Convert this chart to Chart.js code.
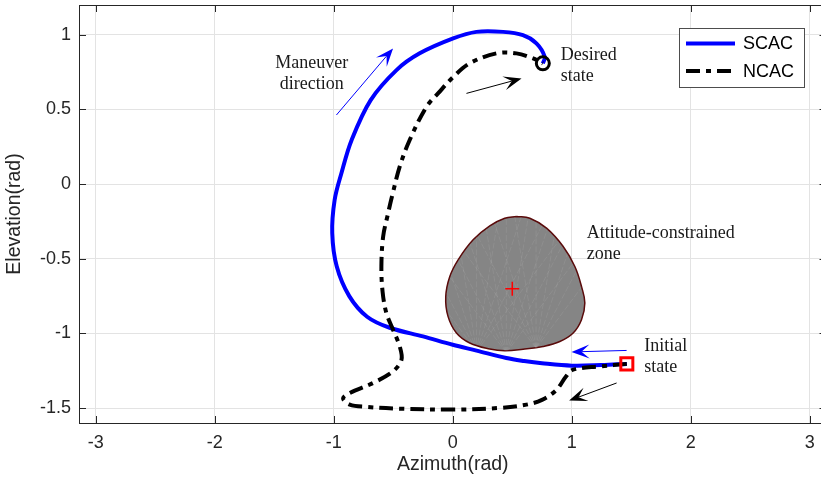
<!DOCTYPE html>
<html>
<head>
<meta charset="utf-8">
<script src="https://cdn.jsdelivr.net/npm/chart.js@4.4.1/dist/chart.umd.min.js"></script>
<style>
  html, body { margin: 0; padding: 0; overflow: hidden; background: #fff; }
  #wrap { width: 821px; height: 481px; }
</style>
</head>
<body>
<div id="wrap"><canvas id="traj" width="821" height="481"></canvas></div>
<script>
// attitude trajectories, azimuth / elevation in rad
const scacAz = [1.463, 1.25, 1.0, 0.75, 0.6, 0.45, 0.2, 0.0, -0.25, -0.53, -0.72, -0.87, -0.975, -1.013, -0.993, -0.936, -0.85, -0.69, -0.473, -0.278, 0.003, 0.199, 0.423, 0.59, 0.703, 0.773, 0.757];
const scacEl = [-1.204, -1.212, -1.216, -1.2, -1.185, -1.165, -1.115, -1.076, -1.02, -0.962, -0.888, -0.75, -0.552, -0.328, -0.106, 0.073, 0.296, 0.563, 0.764, 0.876, 0.976, 1.02, 1.02, 0.998, 0.943, 0.853, 0.809];
const ncacAz = [1.463, 1.236, 1.012, 0.95, 0.87, 0.75, 0.619, 0.395, 0.003, -0.446, -0.726, -0.866, -0.922, -0.866, -0.67, -0.502, -0.431, -0.446, -0.502, -0.558, -0.59, -0.60, -0.585, -0.545, -0.51, -0.446, -0.362, -0.221, -0.12, 0.0, 0.141, 0.367, 0.535, 0.675, 0.757];
const ncacEl = [-1.204, -1.221, -1.243, -1.29, -1.38, -1.445, -1.477, -1.499, -1.51, -1.504, -1.492, -1.477, -1.435, -1.399, -1.332, -1.254, -1.176, -1.087, -0.975, -0.864, -0.72, -0.55, -0.35, -0.2, -0.08, 0.117, 0.296, 0.518, 0.611, 0.715, 0.809, 0.876, 0.876, 0.842, 0.809];

// boundary of the attitude-constrained zone
const zoneAz = [0.536, 0.648, 0.788, 0.928, 1.026, 1.082, 1.110, 1.082, 1.012, 0.900, 0.759, 0.591, 0.437, 0.311, 0.143, 0.031, -0.040, -0.059, -0.025, 0.045, 0.171, 0.311, 0.437, 0.536];
const zoneEl = [-0.217, -0.228, -0.295, -0.418, -0.552, -0.686, -0.797, -0.908, -0.997, -1.054, -1.087, -1.106, -1.116, -1.104, -1.064, -0.997, -0.886, -0.753, -0.619, -0.507, -0.373, -0.280, -0.229, -0.217];
const zoneCenter = [0.5, -0.7];
const initialState = [1.463, -1.204];
const desiredState = [0.757, 0.809];

const xTicks = [-3, -2, -1, 0, 1, 2, 3];
const yTicks = [-1.5, -1, -0.5, 0, 0.5, 1];
// the axes box runs from -pi to pi; the page shows it up to 3.095
const xRange = [-Math.PI, 3.095];
const xBoxEnd = Math.PI;
const yRange = [-1.6, 1.2];

// direction arrows and text notes, in data coordinates
const arrows = [
  { from: [-0.978, 0.463], to: [-0.502, 0.909], color: '#0000ff' },
  { from: [0.115, 0.608], to: [0.578, 0.708], color: '#000000' },
  { from: [1.461, -1.114], to: [0.998, -1.124], color: '#0000ff' },
  { from: [1.377, -1.332], to: [0.978, -1.450], color: '#000000' }
];
const notes = [
  { at: [-1.186, 0.777], lines: ['Maneuver', 'direction'], align: 'center' },
  { at: [0.908, 0.831], lines: ['Desired', 'state'], align: 'left' },
  { at: [1.127, -0.362], lines: ['Attitude-constrained', 'zone'], align: 'left' },
  { at: [1.609, -1.12], lines: ['Initial', 'state'], align: 'left' }
];

const pts = (az, el) => az.map((x, i) => ({ x: x, y: el[i] }));
const AXIS = '#262626';
const SANS = 'Liberation Sans, Arial, sans-serif';
const SERIF = 'Liberation Serif, Times New Roman, serif';

function drawArrow(ctx, x0, y0, x1, y1, color) {
  const ang = Math.atan2(y1 - y0, x1 - x0);
  const len = 18, half = 7, back = 10;
  ctx.save();
  ctx.strokeStyle = color;
  ctx.fillStyle = color;
  ctx.lineWidth = 1;
  ctx.beginPath();
  ctx.moveTo(x0, y0);
  ctx.lineTo(x1 - Math.cos(ang) * back, y1 - Math.sin(ang) * back);
  ctx.stroke();
  ctx.translate(x1, y1);
  ctx.rotate(ang);
  ctx.beginPath();
  ctx.moveTo(0, 0);
  ctx.lineTo(-len, -half);
  ctx.lineTo(-back, 0);
  ctx.lineTo(-len, half);
  ctx.closePath();
  ctx.fill();
  ctx.restore();
}

const decorations = {
  id: 'decorations',
  afterDatasetDraw(chart, args) {
    if (args.index !== 2) return;
    // faint streaks inside the zone fill
    const { ctx, scales: { x, y } } = chart;
    ctx.save();
    ctx.beginPath();
    zoneAz.forEach((a, i) => {
      const px = x.getPixelForValue(a), py = y.getPixelForValue(zoneEl[i]);
      if (i === 0) ctx.moveTo(px, py); else ctx.lineTo(px, py);
    });
    ctx.closePath();
    ctx.clip();
    ctx.strokeStyle = 'rgba(255,255,255,0.1)';
    ctx.lineWidth = 0.8;
    ctx.setLineDash([6, 2]);
    const bases = [[0.2, -1.12], [0.45, -1.13], [0.7, -1.1]];
    bases.forEach(b => {
      const bx = x.getPixelForValue(b[0]), by = y.getPixelForValue(b[1]);
      for (let k = 0; k < 9; k++) {
        const a = -Math.PI / 2 + (k - 4) * 0.16;
        ctx.beginPath();
        ctx.moveTo(bx, by);
        ctx.lineTo(bx + Math.cos(a) * 200, by + Math.sin(a) * 200);
        ctx.stroke();
      }
    });
    ctx.restore();
  },
  afterDraw(chart) {
    const { ctx, chartArea: ca, scales: { x, y } } = chart;
    const boxRight = x.getPixelForValue(xBoxEnd);
    ctx.save();
    // top frame line and inward ticks on all four sides
    ctx.strokeStyle = AXIS;
    ctx.lineWidth = 1;
    ctx.beginPath();
    ctx.moveTo(ca.left, ca.top + 0.5);
    ctx.lineTo(ca.right, ca.top + 0.5);
    const tl = 7;
    xTicks.forEach(v => {
      const px = Math.round(x.getPixelForValue(v)) + 0.5;
      ctx.moveTo(px, ca.bottom); ctx.lineTo(px, ca.bottom - tl);
      ctx.moveTo(px, ca.top); ctx.lineTo(px, ca.top + tl);
    });
    yTicks.forEach(v => {
      const py = Math.round(y.getPixelForValue(v)) + 0.5;
      ctx.moveTo(ca.left, py); ctx.lineTo(ca.left + tl, py);
      ctx.moveTo(boxRight, py); ctx.lineTo(boxRight - tl, py);
    });
    ctx.stroke();

    arrows.forEach(a => drawArrow(ctx,
      x.getPixelForValue(a.from[0]), y.getPixelForValue(a.from[1]),
      x.getPixelForValue(a.to[0]), y.getPixelForValue(a.to[1]), a.color));

    ctx.fillStyle = '#1a1a1a';
    ctx.font = '18px ' + SERIF;
    ctx.textBaseline = 'alphabetic';
    notes.forEach(n => {
      ctx.textAlign = n.align;
      const px = x.getPixelForValue(n.at[0]), py = y.getPixelForValue(n.at[1]);
      n.lines.forEach((t, i) => ctx.fillText(t, px, py + i * 21));
    });

    // legend box
    const lx = 679.5, ly = 28.5, lw = 125, lh = 59;
    ctx.fillStyle = '#fff';
    ctx.fillRect(lx, ly, lw, lh);
    ctx.strokeStyle = '#4d4d4d';
    ctx.lineWidth = 1;
    ctx.strokeRect(lx, ly, lw, lh);
    ctx.font = '18px ' + SANS;
    ctx.textAlign = 'left';
    ctx.textBaseline = 'middle';
    [0, 1].forEach((di, i) => {
      const ds = chart.data.datasets[di];
      const ry = 43.5 + i * 27.5;
      ctx.strokeStyle = ds.borderColor;
      ctx.lineWidth = 4;
      ctx.setLineDash(ds.borderDash || []);
      ctx.beginPath();
      ctx.moveTo(686, ry);
      ctx.lineTo(735, ry);
      ctx.stroke();
      ctx.setLineDash([]);
      ctx.fillStyle = '#000';
      ctx.fillText(ds.label, 743, ry + 1);
    });
    ctx.restore();
  }
};

const tickFont = { family: SANS, size: 18 };
const titleFont = { family: SANS, size: 19.5 };

new Chart(document.getElementById('traj'), {
  type: 'scatter',
  data: {
    datasets: [
      { label: 'SCAC', data: pts(scacAz, scacEl), showLine: true, borderColor: '#0000ff', borderWidth: 4,
        pointRadius: 0, tension: 0.35, order: 3 },
      { label: 'NCAC', data: pts(ncacAz, ncacEl), showLine: true, borderColor: '#000000', borderWidth: 4,
        borderDash: [14, 6, 5, 6], pointRadius: 0, tension: 0.35, order: 2 },
      { label: 'zone', data: pts(zoneAz, zoneEl), showLine: true, fill: 'shape', backgroundColor: '#858585',
        borderColor: '#5a0a0a', borderWidth: 1.5, pointRadius: 0, tension: 0.4, order: 5 },
      { label: 'center', data: [{ x: zoneCenter[0], y: zoneCenter[1] }], pointStyle: 'cross', pointRadius: 7,
        borderColor: '#ff0000', borderWidth: 1.5, order: 1 },
      { label: 'initial', data: [{ x: initialState[0], y: initialState[1] }], pointStyle: 'rect', pointRadius: 8.5,
        borderColor: '#ff0000', backgroundColor: 'rgba(0,0,0,0)', borderWidth: 3, order: 0 },
      { label: 'desired', data: [{ x: desiredState[0], y: desiredState[1] }], pointStyle: 'circle', pointRadius: 6.5,
        borderColor: '#000000', backgroundColor: 'rgba(0,0,0,0)', borderWidth: 3, order: 0 }
    ]
  },
  options: {
    responsive: false,
    animation: false,
    events: [],
    layout: { autoPadding: false, padding: { left: 0, top: 5, right: 0, bottom: 0 } },
    plugins: { legend: { display: false }, tooltip: { enabled: false } },
    scales: {
      x: {
        type: 'linear', min: xRange[0], max: xRange[1],
        afterBuildTicks: s => { s.ticks = xTicks.map(v => ({ value: v })); },
        afterFit: s => { s.height = 58; s.paddingLeft = 0; s.paddingRight = 0; },
        grid: { color: '#e3e3e3', lineWidth: 1, drawTicks: false },
        border: { display: true, color: AXIS, width: 1 },
        ticks: { color: AXIS, font: tickFont, padding: 9, maxRotation: 0, autoSkip: false, callback: v => String(v) },
        title: { display: false }
      },
      y: {
        type: 'linear', min: yRange[0], max: yRange[1],
        afterBuildTicks: s => { s.ticks = yTicks.map(v => ({ value: v })); },
        afterFit: s => { s.width = 79; s.paddingTop = 0; s.paddingBottom = 0; },
        grid: { color: '#e3e3e3', lineWidth: 1, drawTicks: false },
        border: { display: true, color: AXIS, width: 1 },
        ticks: { color: AXIS, font: tickFont, padding: 8, autoSkip: false, callback: v => String(v) },
        title: { display: true, text: 'Elevation(rad)', color: AXIS, font: titleFont, padding: { top: 3, bottom: 0 } }
      }
    }
  },
  plugins: [decorations, {
    // x title is centred on the full -pi..pi box, not on the cropped area
    id: 'xTitle',
    afterDraw(chart) {
      const { ctx, scales: { x } } = chart;
      const cx = (x.getPixelForValue(xRange[0]) + x.getPixelForValue(xBoxEnd)) / 2;
      ctx.save();
      ctx.fillStyle = AXIS;
      ctx.font = '19.5px ' + SANS;
      ctx.textAlign = 'center';
      ctx.textBaseline = 'middle';
      ctx.fillText('Azimuth(rad)', cx, 465);
      ctx.restore();
    }
  }]
});
</script>
</body>
</html>
